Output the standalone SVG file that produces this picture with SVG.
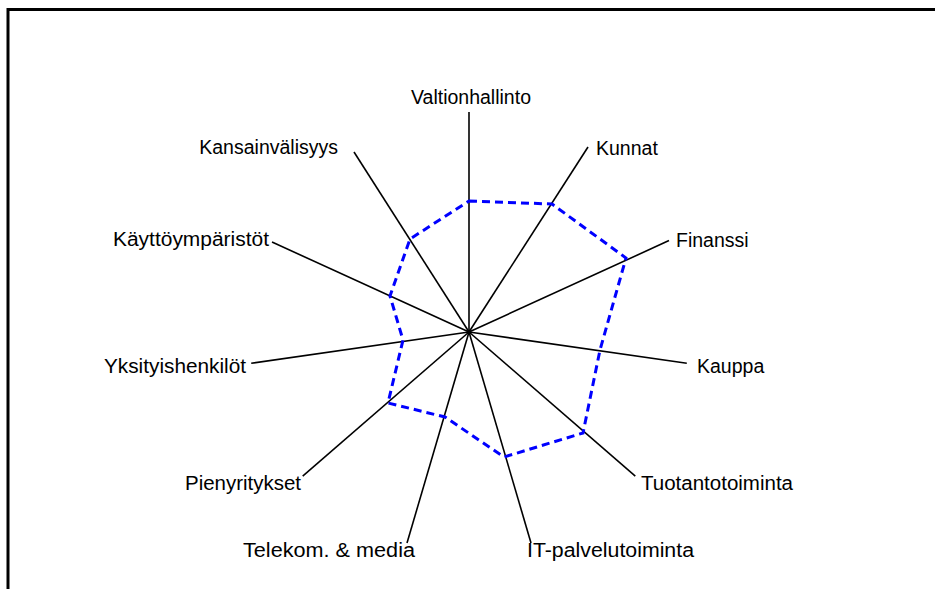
<svg xmlns="http://www.w3.org/2000/svg" width="935" height="589" viewBox="0 0 935 589">
  <style>
    .frame { fill: none; stroke: #000; stroke-width: 3; }
    .axis { stroke: #000; stroke-width: 1.6; }
    .series { fill: none; stroke: #0000FF; stroke-width: 3; stroke-dasharray: 8 5; }
    .lbl { font-family: "Liberation Sans", Arial, sans-serif; font-size: 19.5px; fill: #000; }
  </style>
  <rect width="935" height="589" fill="#fff"/>
  <!-- chart frame: top and left edges -->
  <path class="frame" d="M8 589 V9.5 H935"/>

  <!-- radar axes from the centre -->
  <g id="connectors">
    <line class="axis" x1="469" y1="332" x2="469" y2="112"/>
    <line class="axis" x1="469" y1="332" x2="588" y2="147"/>
    <line class="axis" x1="469" y1="332" x2="669" y2="240.6"/>
    <line class="axis" x1="469" y1="332" x2="686.8" y2="363.3"/>
    <line class="axis" x1="469" y1="332" x2="635.3" y2="476.1"/>
    <line class="axis" x1="469" y1="332" x2="531" y2="543"/>
    <line class="axis" x1="469" y1="332" x2="407" y2="543"/>
    <line class="axis" x1="469" y1="332" x2="302.7" y2="476.1"/>
    <line class="axis" x1="469" y1="332" x2="251.2" y2="363.3"/>
    <line class="axis" x1="469" y1="332" x2="272" y2="242"/>
    <line class="axis" x1="469" y1="332" x2="354" y2="152"/>
  </g>

  <!-- data series -->
  <g id="series">
    <polygon class="series" points="469,201 552,204 626,258 600,350 583,433 504,457 445,417 388,403 403,340 390,296 410,239"/>
  </g>

  <!-- category labels -->
  <g id="node-valtionhallinto"><text class="lbl" x="471" y="104" text-anchor="middle">Valtionhallinto</text></g>
  <g id="node-kunnat"><text class="lbl" x="596" y="155">Kunnat</text></g>
  <g id="node-finanssi"><text class="lbl" x="676" y="247">Finanssi</text></g>
  <g id="node-kauppa"><text class="lbl" x="697" y="373">Kauppa</text></g>
  <g id="node-tuotantotoiminta"><text class="lbl" x="641" y="490" textLength="152" lengthAdjust="spacingAndGlyphs">Tuotantotoiminta</text></g>
  <g id="node-it"><text class="lbl" x="527" y="557" textLength="167" lengthAdjust="spacingAndGlyphs">IT-palvelutoiminta</text></g>
  <g id="node-telekom"><text class="lbl" x="415" y="557" text-anchor="end" textLength="172" lengthAdjust="spacingAndGlyphs">Telekom. &amp; media</text></g>
  <g id="node-pienyritykset"><text class="lbl" x="301" y="490" text-anchor="end" textLength="116" lengthAdjust="spacingAndGlyphs">Pienyritykset</text></g>
  <g id="node-yksityishenkilot"><text class="lbl" x="246" y="373" text-anchor="end" textLength="142" lengthAdjust="spacingAndGlyphs">Yksityishenkilöt</text></g>
  <g id="node-kayttoymparistot"><text class="lbl" x="269" y="246" text-anchor="end" textLength="156" lengthAdjust="spacingAndGlyphs">Käyttöympäristöt</text></g>
  <g id="node-kansainvalisyys"><text class="lbl" x="338" y="154" text-anchor="end">Kansainvälisyys</text></g>
</svg>
